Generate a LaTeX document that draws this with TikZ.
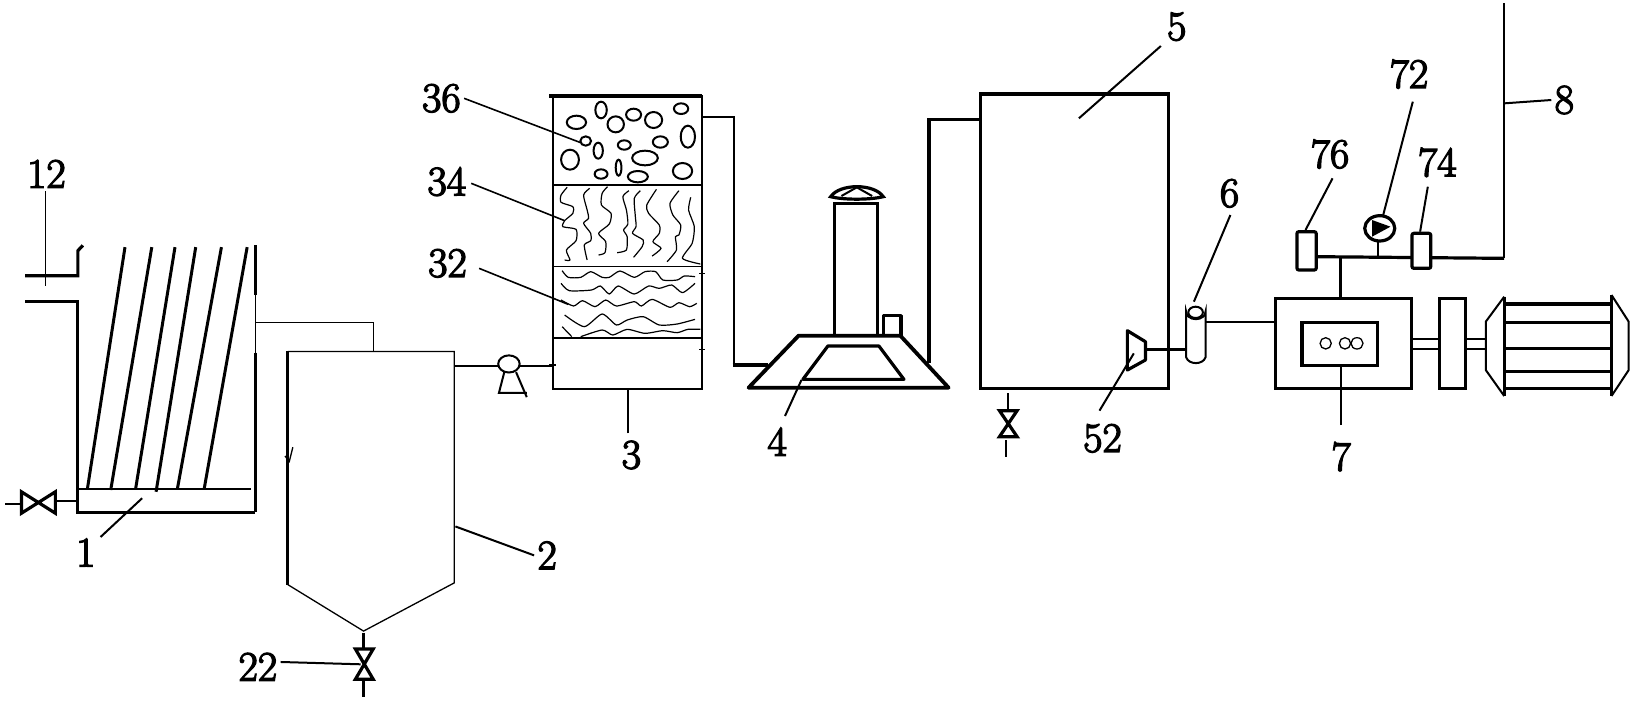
\documentclass[tikz,border=0pt]{standalone}
\usepackage{fontspec}
\newfontfamily\lblfont[FakeBold=3.2]{Latin Modern Roman}
\tikzset{
 z1/.style={x=0.178571pt,y=-0.178571pt,shift={(0pt,-70pt)}},
 z2/.style={x=0.178571pt,y=-0.166667pt,shift={(210pt,-35pt)}},
 z3/.style={x=0.2146pt,y=-0.166667pt,shift={(480pt,0pt)}},
 thinl/.style={line width=0.65pt},
 midl/.style={line width=1pt},
 thickl/.style={line width=1.6pt},
 leader/.style={line width=0.8pt},
 wob/.style={line width=0.6pt,line join=round},
 lbl/.style={inner sep=1.5pt,font=\lblfont\fontsize{21}{21}\selectfont},
}
\begin{document}
\begin{tikzpicture}[x=0.5pt,y=-0.5pt,line join=miter]
\useasboundingbox (0,0) rectangle (1630,703);
\fill[white] (0,0) rectangle (1630,703);
%----------- left part
\begin{scope}[z1]
 \node[lbl] (L12) at (130,95) {12};
 \coordinate (c12) at (127,410);
 \draw[thinl] (L12.south) ++(-3,0) -- (c12);
 \draw[thickl] (70,380) -- (218,380) -- (218,310) -- (232,295);
 \draw[thickl] (70,453) -- (218,453) -- (218,1042) -- (715,1042);
 \draw[thickl] (715,295) -- (715,435);
 \draw[thinl] (715,435) -- (715,595);
 \draw[thickl] (715,595) -- (715,1042);
 \draw[midl] (218,977) -- (703,977);
 \foreach \a/\b/\c in {245/975/350,310/980/425,380/975/490,437/985/548,497/975/620,572/975/692}
   \draw[line width=1.5pt] (\a,\b) -- (\c,300);
 % valve
 \draw[midl] (15,1018) -- (60,1018);
 \draw[thickl] (60,985) -- (60,1045) -- (155,985) -- (155,1045) -- cycle;
 \draw[midl] (155,1010) -- (218,1010);
 \node[lbl] (L1) at (240,1155) {1};
 \coordinate (c1) at (398,1003);
 \draw[midl] (L1.north east) ++(5,5) -- (c1);
 % connector
 \draw[thinl] (715,510) -- (1045,510) -- (1045,592);
 % tank 2
 \draw[thinl] (806,592) -- (1272,592) -- (1272,1240) -- (1018,1375) -- (806,1245);
 \draw[line width=1.5pt] (806,592) -- (806,1245);
 \draw[thinl] (798,885) -- (810,900) -- (820,860);
 % valve 22
 \draw[line width=1.6pt] (1018,1380) -- (1018,1425);
 \draw[thickl] (995,1425) -- (1045,1510) -- (995,1510) -- (1045,1425) -- cycle;
 \draw[line width=1.6pt] (1018,1510) -- (1018,1560);
 \node[lbl] (L22) at (722,1475) {22};
 \coordinate (c22) at (1010,1468);
 \draw[midl] (L22.12) -- (c22);
 \node[lbl] (L2) at (1532,1163) {2};
 \coordinate (c2) at (1275,1082);
 \draw[midl] (L2.west) -- (c2);
 % pump
 \draw[thinl] (1272,633) -- (1395,633);
 \draw[thinl] (1455,633) -- (1550,633);
 \draw[midl] (1425,627) ellipse [x radius=30,y radius=24];
 \draw[midl] (1412,650) -- (1397,708) -- (1475,708);
 \draw[midl] (1445,650) -- (1475,720);
\end{scope}
%----------- tower and burner
\begin{scope}[z2]
 \draw[midl] (372,78) rectangle (790,957);
 \draw[thickl] (362,78) -- (790,78);
 \draw[midl] (372,345) -- (790,345);
 \draw[thinl] (372,590) -- (790,590);
 \draw[midl] (372,803) -- (790,803);
 \draw[thinl] (362,885) -- (380,885) (782,838) -- (798,838) (782,610) -- (798,610);
 \foreach \x/\y/\a/\b in {438/157/27/20,507/120/16/25,548/163/23/24,598/134/21/18,654/150/24/24,731/116/20/16,750/200/20/33,464/213/15/14,499/242/13/24,572/225/18/14,673/216/21/17,630/264/36/22,420/269/25/30,507/312/18/14,556/293/8/24,610/320/28/17,735/303/27/24}
   \draw[midl] (\x,\y) ellipse [x radius=\a,y radius=\b];
 \draw[wob] plot[smooth,tension=0.4] coordinates {(412,352)(395,375)(395,397)(428,410)(428,430)(405,452)(400,470)(437,478)(437,512)(410,540)(420,570)(405,570)};
 \draw[wob] plot[smooth,tension=0.4] coordinates {(475,355)(458,375)(468,420)(472,445)(458,460)(478,490)(478,512)(460,525)(468,570)};
 \draw[wob] plot[smooth,tension=0.4] coordinates {(525,350)(510,370)(508,405)(535,430)(530,462)(500,490)(520,515)(518,548)(500,555)};
 \draw[wob] plot[smooth,tension=0.4] coordinates {(585,362)(568,380)(578,420)(582,462)(570,480)(580,500)(578,540)(552,548)};
 \draw[wob] plot[smooth,tension=0.4] coordinates {(617,362)(600,385)(603,440)(605,470)(595,490)(625,510)(622,530)(598,562)};
 \draw[wob] plot[smooth,tension=0.4] coordinates {(662,358)(635,405)(640,430)(670,465)(670,490)(652,515)(675,535)(650,558)};
 \draw[wob] plot[smooth,tension=0.4] coordinates {(725,362)(700,400)(708,435)(730,465)(725,495)(715,500)(718,540)(692,575)};
 \draw[wob] plot[smooth,tension=0.4] coordinates {(758,382)(752,420)(768,470)(762,520)(735,565)(785,582)};
 \draw[wob] plot[smooth,tension=0.4] coordinates {(398,602)(415,622)(450,622)(478,605)(510,622)(530,622)(560,603)(600,622)(630,605)(660,605)(680,630)(720,630)(740,618)(770,620)};
 \draw[wob] plot[smooth,tension=0.4] coordinates {(395,640)(418,662)(480,660)(505,648)(530,672)(555,648)(600,672)(640,648)(670,655)(705,645)(735,668)(770,640)};
 \draw[wob] plot[smooth,tension=0.4] coordinates {(395,690)(430,708)(455,692)(490,710)(520,690)(550,708)(600,695)(620,708)(650,688)(700,712)(725,698)(755,710)(775,700)};
 \draw[wob] plot[smooth,tension=0.4] coordinates {(405,735)(460,770)(510,732)(550,765)(580,750)(625,740)(670,765)(720,762)(770,748)};
 \draw[wob] (398,770) -- (425,800);
 \draw[wob] plot[smooth,tension=0.4] coordinates {(450,800)(510,780)(540,795)(580,778)(630,790)(680,782)(720,788)(750,778)(785,778)};
 \node[lbl] (L36) at (60,85) {36};
 \node[lbl] (L34) at (75,335) {34};
 \node[lbl] (L32) at (77,580) {32};
 \node[lbl] (L3) at (592,1155) {3};
 \node[lbl] (L4) at (1000,1115) {4};
 \coordinate (c36) at (450,218);
 \coordinate (c34) at (405,452);
 \coordinate (c32) at (415,703);
 \coordinate (c3) at (582,957);
 \coordinate (c4) at (1068,930);
 \draw[leader] (L36.east) -- (c36);
 \draw[leader] (L34.east) ++(5,5) -- (c34);
 \draw[leader] (L32.east) ++(25,15) -- (c32);
 \draw[midl] (582,1090) -- (c3);
 \draw[midl] (1022,1038) -- (c4);
 % pipes
 \draw[midl] (790,140) -- (880,140) -- (880,885);
 \draw[thickl] (875,885) -- (975,885);
 \draw[thickl] (1425,880) -- (1425,148) -- (1565,148);
 % burner
 \draw[line width=1.9pt,line join=round] (920,953) -- (1060,797) -- (1345,797) -- (1480,953) -- cycle;
 \draw[thickl,line join=round] (1072,928) -- (1142,828) -- (1285,828) -- (1355,928) -- cycle;
 \draw[thickl] (1160,797) -- (1160,400) -- (1282,400) -- (1282,797);
 \draw[thickl,line join=round] (1298,797) -- (1298,737) -- (1347,737) -- (1347,797);
 \draw[thickl] (1150,380) .. controls (1175,340) and (1272,340) .. (1297,380) .. controls (1260,390) and (1185,390) .. cycle;
 \draw[midl] (1180,378) -- (1223,352) -- (1266,378);
\end{scope}
%----------- right part
\begin{scope}[z3]
 \draw[thickl] (48,282) rectangle (485,1165);
 \draw[thickl] (0,358) -- (48,358);
 \node[lbl] (L5) at (505,80) {5};
 \coordinate (c5) at (277,355);
 \draw[midl] (468,138) -- (c5);
 \draw[midl] (112,1180) -- (112,1232);
 \draw[thickl] (92,1232) -- (133,1310) -- (92,1310) -- (133,1232) -- cycle;
 \draw[midl] (108,1320) -- (108,1370);
 \draw[thickl,line join=round] (390,992) -- (432,1025) -- (432,1080) -- (390,1110) -- cycle;
 \node[lbl] (L52) at (332,1315) {52};
 \coordinate (c52) at (405,1060);
 \draw[midl] (325,1232) -- (c52);
 \draw[thickl] (432,1048) -- (527,1048);
 % filter 6
 \draw[midl] (527,960) -- (527,935) arc[start angle=180,end angle=0,radius=22.5] -- (572,1072) .. controls (566,1095) and (533,1095) .. (527,1072) -- cycle;
 \draw[midl] (549,937) circle[radius=17];
 \node[lbl] (L6) at (628,580) {6};
 \coordinate (c6) at (545,905);
 \draw[midl] (630,645) -- (c6);
 \draw[midl] (572,967) -- (733,967);
 % compressor
 \draw[thickl] (735,895) rectangle (1052,1165);
 \draw[thickl] (797,967) rectangle (973,1097);
 \draw[thinl] (852,1030) ellipse[x radius=13,y radius=17];
 \draw[thinl] (897,1030) ellipse[x radius=13,y radius=17];
 \draw[thinl] (925,1030) ellipse[x radius=14,y radius=17];
 \node[lbl] (L7) at (888,1370) {7};
 \coordinate (c7) at (887,1097);
 \draw[midl] (887,1275) -- (c7);
 \draw[thickl] (887,895) -- (887,770);
 \draw[thickl] (830,770) -- (1268,775);
 \draw[thickl,fill=white,rounded corners=1pt] (785,695) rectangle (830,810);
 \draw[thickl,fill=white,rounded corners=1pt] (1053,700) rectangle (1097,805);
 \draw[line width=1.2pt] (1268,775) -- (1268,10);
 \node[lbl] (L8) at (1408,300) {8};
 \coordinate (c8) at (1268,310);
 \draw[midl] (L8.west) -- (c8);
 % gauge 72
 \draw[midl] (975,720) -- (975,770);
 \draw[thickl] (978,685) ellipse[x radius=35,y radius=38];
 \fill (960,660) -- (1003,680) -- (960,710) -- cycle;
 \node[lbl] (L72) at (1046,222) {72};
 \coordinate (c72) at (985,650);
 \draw[midl] (1055,305) -- (c72);
 \node[lbl] (L76) at (862,462) {76};
 \coordinate (c76) at (805,690);
 \draw[midl] (868,535) -- (c76);
 \node[lbl] (L74) at (1112,487) {74};
 \coordinate (c74) at (1072,695);
 \draw[midl] (1090,560) -- (c74);
 % coupling
 \draw[thickl] (1118,895) rectangle (1178,1165);
 \draw[midl] (1052,1018) -- (1118,1018) (1052,1047) -- (1118,1047);
 \draw[midl] (1178,1018) -- (1225,1018) (1178,1047) -- (1225,1047);
 % motor
 \draw[thickl] (1268,912) rectangle (1518,1165);
 \draw[thickl] (1268,968) -- (1518,968) (1268,1045) -- (1518,1045) (1268,1115) -- (1518,1115);
 \draw[thickl] (1268,890) -- (1268,1188);
 \draw[thickl] (1518,885) -- (1518,1188);
 \draw[midl] (1268,890) -- (1225,965) -- (1225,1110) -- (1268,1188);
 \draw[midl] (1518,885) -- (1558,965) -- (1558,1110) -- (1518,1188);
\end{scope}
\end{tikzpicture}
\end{document}
